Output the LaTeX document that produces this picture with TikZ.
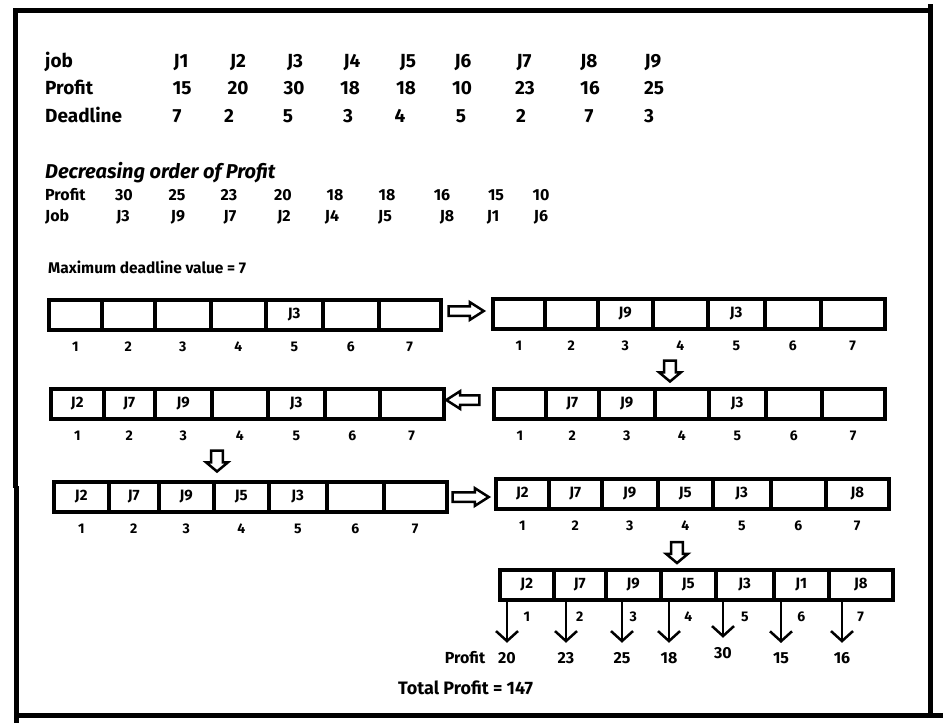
\documentclass[tikz,border=0pt]{standalone}
\usepackage{fontspec}
\setmainfont{Fira Sans}
\usepackage{tikz}
\usetikzlibrary{arrows.meta,shapes.arrows,positioning}
\tikzstyle{frame} = [line width=5pt]
\tikzstyle{cell} = [draw, line width=3.5pt, minimum height=30pt, inner sep=0pt, anchor=north west, font=\fontsize{15}{15}\selectfont\bfseries]
\tikzstyle{slotnum} = [inner sep=0pt, font=\fontsize{14}{14}\selectfont\bfseries]
\tikzstyle{bigtxt} = [anchor=base, inner sep=0pt, font=\fontsize{19}{19}\selectfont\bfseries]
\tikzstyle{smalltxt} = [anchor=base, inner sep=1pt, font=\fontsize{16}{16}\selectfont\bfseries]
\tikzstyle{blockarrow} = [single arrow, draw, fill=white, line width=2.5pt, minimum width=17pt, minimum height=34pt, single arrow head extend=4pt, single arrow tip angle=65, inner sep=3.5pt]
\tikzstyle{downarrow} = [blockarrow, shape border rotate=270, minimum width=22pt, minimum height=21pt, single arrow tip angle=100]
\tikzstyle{profitarrow} = [line width=2.5pt, -{Straight Barb[length=10pt,width=22pt]}, shorten >=8pt]
\newcommand{\slotrow}[3]{%
  \foreach \l/\r/\j [count=\i] in {#3} {
    \node[cell, minimum width={(\r-\l)*1pt}] (#1\i) at (\l,#2) {\j};
    \node[slotnum] (#1n\i) at ([yshift=-15pt]#1\i.south) {\i};
  }}

\begin{document}
\begin{tikzpicture}[x=1pt, y=-1pt]
\useasboundingbox (0,0) rectangle (943,723);
% outer frame
\draw[frame] (13,10.5) -- (933,10.5);
\draw[frame] (930.5,4) -- (930.5,713);
\draw[frame] (15,8) -- (15,488);
\draw[frame] (16.7,486) -- (16.7,723);
\draw[frame] (14.2,715.5) -- (943,715.5);

% job table
\node[bigtxt, anchor=base west] (hjob) at (45,67) {job};
\node[bigtxt, anchor=base west] (hprof) at (45,94) {Profit};
\node[bigtxt, anchor=base west] (hdl) at (45,122) {Deadline};
\foreach \x/\t [count=\i] in {181/J1,238/J2,295/J3,352/J4,408/J5,463/J6,524/J7,589/J8,653/J9}
  \node[bigtxt] (job\i) at (\x,67) {\t};
\foreach \x/\t [count=\i] in {182/15,238/20,294/30,350/18,406/18,462/10,525/23,590/16,654/25}
  \node[bigtxt] (prof\i) at (\x,94) {\t};
\foreach \x/\t [count=\i] in {177/7,229/2,288/5,348/3,400/4,461/5,521/2,589/7,649/3}
  \node[bigtxt] (dl\i) at (\x,122) {\t};

% sorted by profit
\node[anchor=base west, inner sep=0pt, font=\fontsize{20}{20}\selectfont\bfseries\itshape] (order) at (45,178) {Decreasing order of Profit};
\node[smalltxt, anchor=base west, inner sep=0pt] (sprof) at (45,200) {Profit};
\node[smalltxt, anchor=base west, inner sep=0pt] (sjob) at (45,221) {Job};
\foreach \x/\t [count=\i] in {124/30,177/25,229/23,283/20,335/18,387/18,442/16,496/15,541/10}
  \node[smalltxt] (sp\i) at (\x,200) {\t};
\foreach \x/\t [count=\i] in {123/J3,178/J9,230/J7,284/J2,332/J4,385/J5,447/J8,493/J1,541/J6}
  \node[smalltxt] (sj\i) at (\x,221) {\t};
\node[smalltxt, anchor=base west, inner sep=0pt, font=\fontsize{15.5}{15.5}\selectfont\bfseries] (maxdl) at (48,273) {Maximum deadline value = 7};

% slot arrays
\slotrow{a}{298}{47/100/{},100/153/{},153/209/{},209/264/{},264/321/J3,321/377/{},377/439/{}}
\slotrow{b}{297}{491/543/{},543/596/{},596/651/J9,651/706/{},706/763/J3,763/819/{},819/883/{}}
\slotrow{c}{387}{492/544/{},544/597/J7,597/653/J9,653/707/{},707/764/J3,764/820/{},820/883/{}}
\slotrow{d}{387}{49/102/J2,102/153/J7,153/210/J9,210/266/{},266/323/J3,323/378/{},378/442/{}}
\slotrow{e}{480}{52/107/J2,107/157/J7,157/212/J9,212/267/J5,267/325/J3,325/382/{},382/445/{}}
\slotrow{f}{477}{494/547/J2,547/600/J7,600/656/J9,656/711/J5,711/769/J3,769/824/{},824/887/J8}
\slotrow{g}{568}{498/552/J2,552/604/J7,604/659/J9,659/714/J5,714/772/J3,772/827/J1,827/891/J8}

% steps
\node[blockarrow, minimum height=35pt] (ar1) at (462.5,311) {};
\node[downarrow] (ar2) at (670,368.5) {};
\node[blockarrow, shape border rotate=180, minimum height=33pt] (ar3) at (466.5,400) {};
\node[downarrow] (ar4) at (217,458.5) {};
\node[blockarrow, minimum height=36pt] (ar5) at (467,497) {};
\node[downarrow] (ar6) at (677,550) {};

% profits
\node[smalltxt] (plabel) at (465,663) {Profit};
\foreach \x/\y/\v [count=\i] in {507/663/20,566/663/23,622/663/25,669/663/18,723/658/30,781/663/15,842/663/16} {
  \node[smalltxt] (p\i) at (\x,\y) {\v};
  \draw[profitarrow] (p\i |- g\i.south) -- (p\i.north);
}
\node[smalltxt, anchor=base west, inner sep=0pt, font=\fontsize{18}{18}\selectfont\bfseries] (total) at (398,694) {Total Profit = 147};
\end{tikzpicture}
\end{document}
